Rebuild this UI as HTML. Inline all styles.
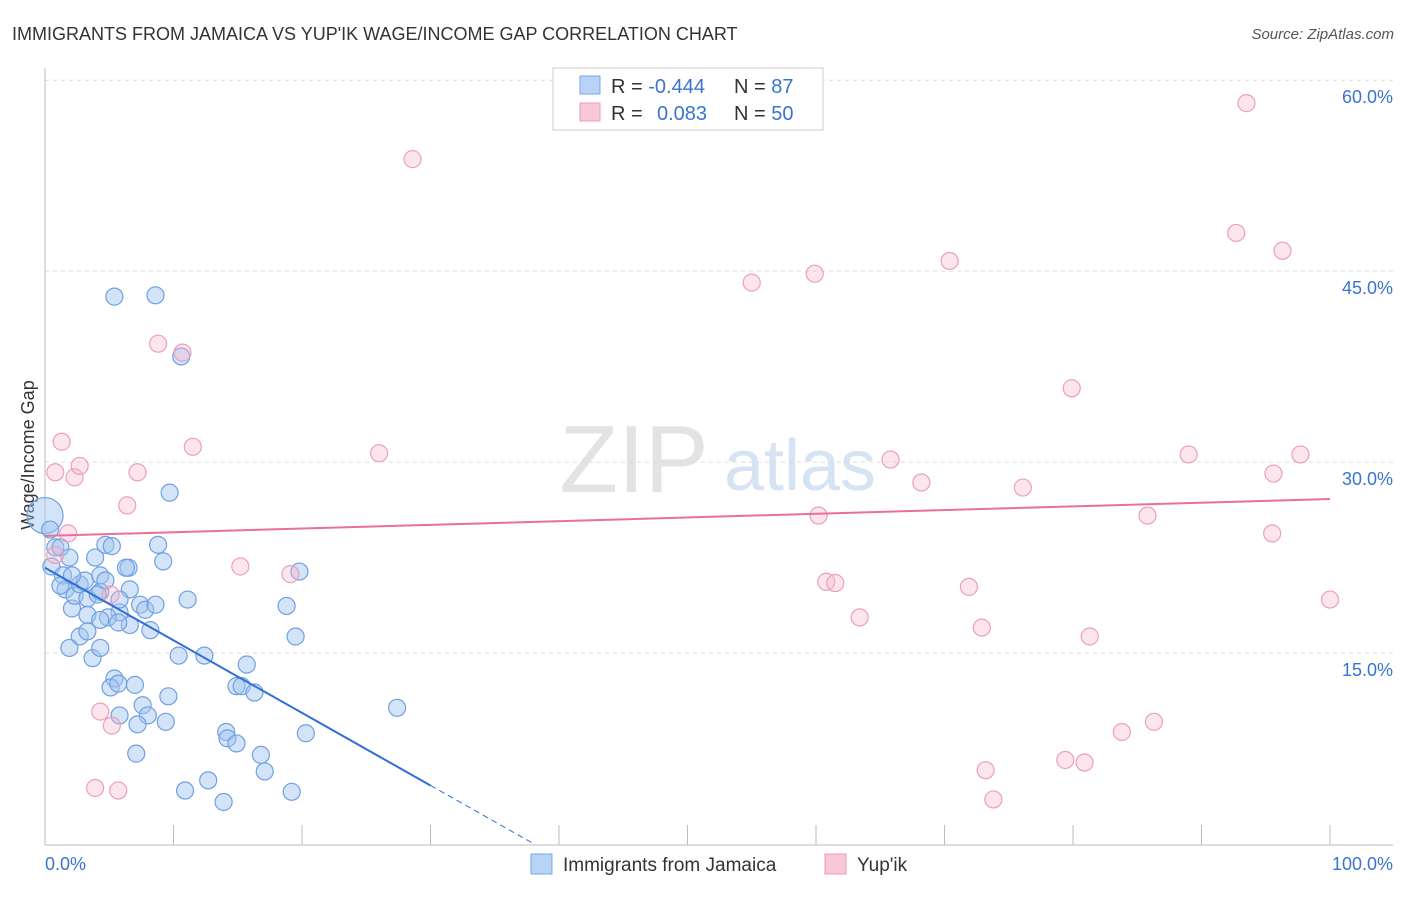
<!DOCTYPE html>
<html><head><meta charset="utf-8"><style>
body{margin:0;background:#fff;font-family:"Liberation Sans",sans-serif;}
svg text{font-family:"Liberation Sans",sans-serif;}
</style></head><body>
<svg id="chart" width="1406" height="892">
<text x="12" y="40" font-size="18" fill="#333">IMMIGRANTS FROM JAMAICA VS YUP'IK WAGE/INCOME GAP CORRELATION CHART</text>
<text x="1394" y="39" font-size="15" fill="#555" text-anchor="end" font-style="italic">Source: ZipAtlas.com</text>
<text x="634" y="492" font-size="96" fill="#e3e3e3" text-anchor="middle" font-family="Liberation Serif">ZIP</text>
<text x="800" y="490" font-size="72" fill="#d6e3f3" text-anchor="middle">atlas</text>
<text transform="translate(34,455) rotate(-90)" font-size="18" fill="#333" text-anchor="middle">Wage/Income Gap</text>
<g id="grid"></g><g id="pts"></g><g id="trend"></g>
<g>
<rect x="553" y="68" width="270" height="62" fill="#fff" stroke="#ccc"/>
<rect x="580" y="76" width="20" height="18" fill="#b9d3f5" stroke="#7aa7e6"/>
<rect x="580" y="103" width="20" height="18" fill="#f9c8d7" stroke="#ee9bb6"/>
<text x="611" y="93" font-size="20" fill="#333">R = <tspan fill="#3a74d0">-0.444</tspan></text>
<text x="734" y="93" font-size="20" fill="#333">N = <tspan fill="#3a74d0"> 87</tspan></text>
<text x="611" y="120" font-size="20" fill="#333">R = <tspan fill="#3a74d0" x="657">0.083</tspan></text>
<text x="734" y="120" font-size="20" fill="#333">N = <tspan fill="#3a74d0">50</tspan></text>
</g>
<g>
<rect x="531" y="854" width="21" height="20" fill="#b9d3f5" stroke="#7aa7e6"/>
<text x="563" y="871" font-size="19" fill="#333">Immigrants from Jamaica</text>
<rect x="825" y="854" width="21" height="20" fill="#f9c8d7" stroke="#ee9bb6"/>
<text x="857" y="871" font-size="19" fill="#333">Yup'ik</text>
</g>
</svg>
<script>
const yTicks=[15,30,45,60];
const yTickLabels=["15.0%","30.0%","45.0%","60.0%"];
const xEndLabels=["0.0%","100.0%"];
const jamX=[0,0.4,0.8,1.2,0.5,1.4,1.9,1.6,2.1,2.3,2.7,3.1,3.3,3.9,4.3,4.3,4.7,5.2,5.8,6.5,6.6,6.6,7.4,7.8,8.2,8.6,8.8,9.2,9.7,3.3,2.7,3.3,1.9,3.7,4.3,5.4,5.1,5.7,7.0,7.6,5.8,8.0,7.2,9.4,9.6,10.4,11.1,12.4,7.1,10.9,12.7,13.9,14.1,14.2,14.9,14.9,15.3,15.7,16.3,16.8,17.1,19.2,18.8,19.5,19.8,20.3,27.4,5.4,8.6,10.6,6.3,4.9,5.7,4.3,1.2,2.1,4.1,5.8,4.7];
const jamY=[25.8,24.7,23.3,23.3,21.8,21.1,22.5,20.0,18.5,19.5,20.4,20.7,19.3,22.5,21.1,19.8,23.5,23.4,18.2,21.7,20.0,17.2,18.8,18.4,16.8,18.8,23.5,22.2,27.6,18.0,16.3,16.7,15.4,14.6,15.4,13.0,12.3,12.6,12.5,10.9,10.1,10.1,9.4,9.6,11.6,14.8,19.2,14.8,7.1,4.2,5.0,3.3,8.8,8.3,7.9,12.4,12.4,14.1,11.9,7.0,5.7,4.1,18.7,16.3,21.4,8.7,10.7,43.0,43.1,38.3,21.7,17.8,17.4,17.6,20.3,21.1,19.6,19.2,20.7];
const yupX=[0.8,1.3,2.3,2.7,1.8,0.8,5.1,7.2,6.4,8.8,10.7,11.5,4.3,5.2,3.9,5.7,15.2,19.1,28.6,26.0,55.0,59.9,70.4,60.2,60.8,61.5,63.4,65.8,68.2,71.9,72.9,73.2,73.8,76.1,79.4,80.9,79.9,81.3,83.8,85.8,86.3,89.0,92.7,93.5,95.6,95.5,96.3,97.7,100];
const yupY=[29.2,31.6,28.8,29.7,24.4,22.7,19.6,29.2,26.6,39.3,38.6,31.2,10.4,9.3,4.4,4.2,21.8,21.2,53.8,30.7,44.1,44.8,45.8,25.8,20.6,20.5,17.8,30.2,28.4,20.2,17.0,5.8,3.5,28.0,6.6,6.4,35.8,16.3,8.8,25.8,9.6,30.6,48.0,58.2,29.1,24.4,46.6,30.6,19.2];
const jamTrend=[21.7,-0.57];
const yupTrend=[24.2,27.1];
const NS="http://www.w3.org/2000/svg";
const X0=45,X1=1330,Y0=844,PPY=12.73;
const sx=v=>X0+(X1-X0)*v/100, sy=v=>Y0-v*PPY;
function mk(tag,attrs,parent){const e=document.createElementNS(NS,tag);for(const k in attrs)e.setAttribute(k,attrs[k]);parent.appendChild(e);return e;}
const svg=document.getElementById('chart');
const g=document.getElementById('grid');
yTicks.concat([60.4]).forEach((t,i)=>{if(i>=yTicks.length)return;
 const l=mk('line',{x1:X0,x2:1393,y1:sy(t),y2:sy(t),stroke:'#ddd','stroke-dasharray':'4,4'},g);
 
 
 const tx=mk('text',{x:1393,y:sy(t)+23,'font-size':18,fill:'#3a74d0','text-anchor':'end'},g);
 tx.textContent=yTickLabels[i];
 
 
});
const ax=mk('line',{x1:X0,x2:X0,y1:68,y2:845,stroke:'#bbb'},g);


const bx=mk('line',{x1:X0,x2:1393,y1:845,y2:845,stroke:'#bbb'},g);


for(let i=0;i<=10;i++){const t=mk('line',{x1:sx(i*10),x2:sx(i*10),y1:825,y2:845,stroke:'#bbb'},g);
 
 }
[[0,'start',X0],[1,'end',1393]].forEach(([i,a,x])=>{const t=mk('text',{x:x,y:870,'font-size':18,fill:'#3a74d0','text-anchor':a},g);t.textContent=xEndLabels[i];
 
 });
const p=document.getElementById('pts');
jamX.forEach((x,i)=>{const c=mk('circle',{cx:sx(x),cy:sy(jamY[i]),r:i===0?18:8.5,fill:'rgba(160,196,240,0.45)',stroke:'#6fa0e0','stroke-width':1.2},p);
 
 });
yupX.forEach((x,i)=>{const c=mk('circle',{cx:sx(x),cy:sy(yupY[i]),r:8.5,fill:'rgba(245,180,200,0.35)',stroke:'#eba0ba','stroke-width':1.2},p);
 
 });
const tr=document.getElementById('trend');
const jf=v=>jamTrend[0]+jamTrend[1]*v;
const l1=mk('line',{x1:sx(0),y1:sy(jf(0)),x2:sx(30),y2:sy(jf(30)),stroke:'#2f6fd6','stroke-width':2},tr);


const xz=-jamTrend[0]/jamTrend[1];
const l2=mk('line',{x1:sx(30),y1:sy(jf(30)),x2:sx(xz),y2:sy(0),stroke:'#2f6fd6','stroke-width':1,'stroke-dasharray':'6,4'},tr);


const l3=mk('line',{x1:sx(0),y1:sy(yupTrend[0]),x2:sx(100),y2:sy(yupTrend[1]),stroke:'#e8709a','stroke-width':2},tr);


</script>
</body></html>
